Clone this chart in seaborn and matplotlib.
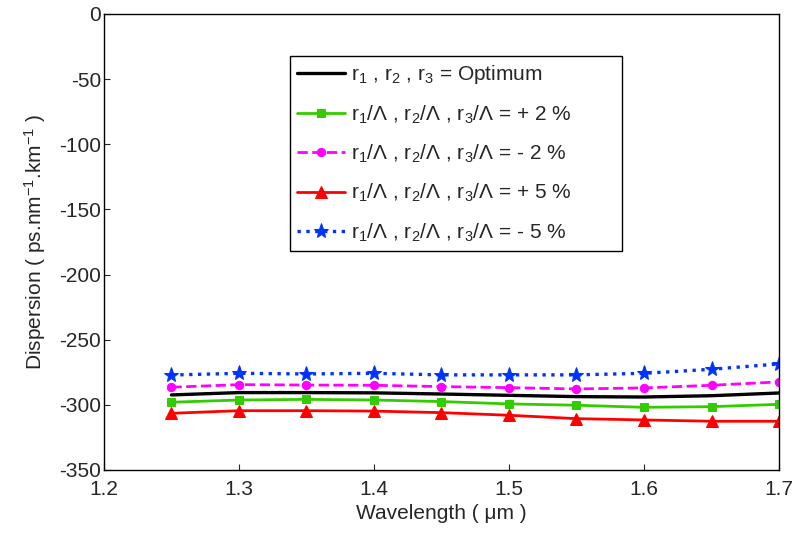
import matplotlib
matplotlib.use("Agg")
import matplotlib.pyplot as plt
import seaborn as sns
import pandas as pd

# Wavelength samples (um) and dispersion curves (ps/nm/km)
wavelength = [1.25, 1.30, 1.35, 1.40, 1.45, 1.50, 1.55, 1.60, 1.65, 1.70]
d_optimum = [-292.4, -290.6, -290.6, -290.8, -291.7, -292.7, -293.7, -294.0, -293.0, -290.9]
d_plus2 = [-298.0, -296.3, -295.8, -296.3, -297.5, -299.3, -300.3, -301.9, -301.4, -299.6]
d_minus2 = [-286.5, -284.5, -284.8, -285.0, -286.0, -286.8, -287.8, -287.0, -285.0, -282.4]
d_plus5 = [-306.5, -304.5, -304.5, -304.8, -306.0, -308.0, -310.6, -311.6, -312.6, -312.6]
d_minus5 = [-277.1, -275.8, -276.3, -275.8, -277.0, -277.0, -277.0, -275.8, -272.7, -268.6]

labels = [
    r"r$_1$ , r$_2$ , r$_3$ = Optimum",
    r"r$_1$/Λ , r$_2$/Λ , r$_3$/Λ = + 2 %",
    r"r$_1$/Λ , r$_2$/Λ , r$_3$/Λ = - 2 %",
    r"r$_1$/Λ , r$_2$/Λ , r$_3$/Λ = + 5 %",
    r"r$_1$/Λ , r$_2$/Λ , r$_3$/Λ = - 5 %",
]

sns.set_style("white")
plt.rcParams["font.family"] = ["Liberation Sans", "DejaVu Sans"]
plt.rcParams["mathtext.fontset"] = "custom"
plt.rcParams["mathtext.rm"] = "Liberation Sans"
plt.rcParams["mathtext.it"] = "Liberation Sans"
plt.rcParams["mathtext.default"] = "regular"
plt.rcParams["axes.unicode_minus"] = False

FS = 15

fig = plt.figure(figsize=(7.98, 5.34), dpi=100)
ax = fig.add_axes([0.1303, 0.1199, 0.8459, 0.8539])

styles = [
    dict(color="black", linestyle="-", marker=None, lw=2.4, ms=0),
    dict(color="#33cc00", linestyle="-", marker="s", lw=2.0, ms=6),
    dict(color="#ff00ff", linestyle="--", marker="o", lw=2.0, ms=6),
    dict(color="#ff0000", linestyle="-", marker="^", lw=2.0, ms=9),
    dict(color="#0033ff", linestyle=":", marker="*", lw=2.4, ms=11),
]
series = [d_optimum, d_plus2, d_minus2, d_plus5, d_minus5]

for vals, lab, st in zip(series, labels, styles):
    df = pd.DataFrame({"wl": wavelength, "D": vals})
    sns.lineplot(data=df, x="wl", y="D", ax=ax, label=lab,
                 color=st["color"], linestyle=st["linestyle"],
                 marker=st["marker"], linewidth=st["lw"],
                 markersize=st["ms"], markeredgecolor=st["color"],
                 markerfacecolor=st["color"])

ax.set_xlim(1.2, 1.7)
ax.set_ylim(-350, 0)
ax.set_xticks([1.2, 1.3, 1.4, 1.5, 1.6, 1.7])
ax.set_yticks(range(-350, 1, 50))
ax.tick_params(direction="in", length=4, width=0.8, labelsize=FS,
               left=True, bottom=True, top=False, right=False)
ax.tick_params(axis="x", pad=7.5)
ax.tick_params(axis="y", pad=2)
for sp in ax.spines.values():
    sp.set_color("black")
    sp.set_linewidth(1.0)

ax.set_xlabel("Wavelength ( μm )", fontsize=FS, labelpad=3)
ax.set_ylabel(r"Dispersion ( ps.nm$^{-1}$.km$^{-1}$ )", fontsize=FS, labelpad=8)

leg = ax.legend(loc="upper left",
                bbox_to_anchor=(290 / 798, 1 - 255 / 534, 332 / 798, 199 / 534),
                bbox_transform=fig.transFigure, mode="expand",
                fontsize=FS, frameon=True,
                fancybox=False, edgecolor="black", framealpha=1,
                handlelength=2.3, labelspacing=0.82, borderpad=0.35,
                handletextpad=0.3, borderaxespad=0)
leg.get_frame().set_linewidth(1.0)

fig.savefig("out.png", dpi=100)
